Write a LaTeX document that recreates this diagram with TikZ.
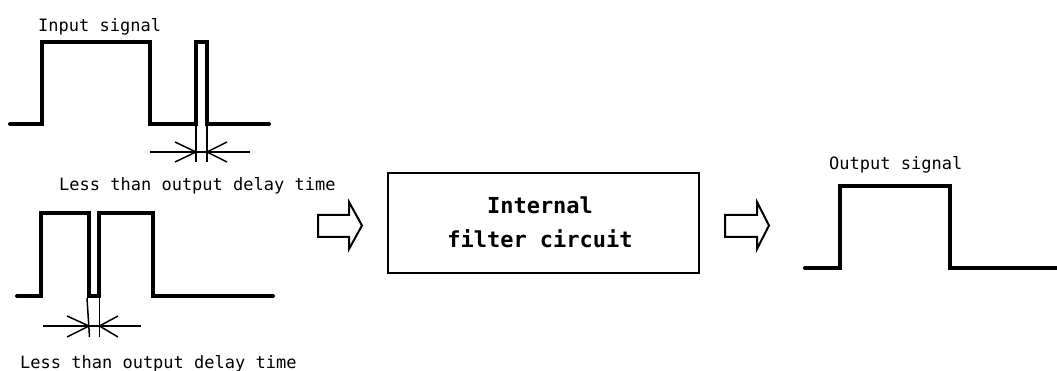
\documentclass[tikz,border=0pt]{standalone}
\usepackage{fontspec}
\setmonofont{DejaVu Sans Mono}
\begin{document}
\begin{tikzpicture}[x=1pt,y=-1pt,
  wave/.style={line width=4pt,line join=miter,line cap=round},
  thin/.style={line width=1.5pt},
  lbl/.style={inner sep=0pt,anchor=base west,font=\ttfamily\fontsize{17}{17}\selectfont},
  boxtxt/.style={inner sep=0pt,anchor=base,font=\ttfamily\bfseries\fontsize{22}{22}\selectfont},
  fatarrow/.style={line width=2pt,line join=miter}]
\useasboundingbox (0,0) rectangle (1057,371);

% input signal with a short pulse after the main one
\draw[wave] (10,124) -- (42,124) -- (42,42) -- (150,42) -- (150,124) -- (196,124)
  -- (196,42) -- (207,42) -- (207,124) -- (269,124);
\node[lbl] (insig) at (38,32) {Input signal};
% width of the short pulse
\coordinate (ta) at (196,126);
\coordinate (tb) at (207,126);
\coordinate (tac) at (196,162);
\coordinate (tbc) at (207,162);
\coordinate (tl) at (150,152);
\coordinate (tr) at (250,152);
\draw[thin] (ta) -- (tac);
\draw[thin] (tb) -- (tbc);
\draw[thin] (tl) -- (tr);
\draw[thin] (175,142) -- (196,152) -- (175,162);
\draw[thin] (227,142) -- (207,152) -- (227,162);
\node[lbl] (lessA) at (59,190.5) {Less than output delay time};

% input signal with a short gap inside the pulse
\draw[wave] (17,296) -- (41,296) -- (41,213) -- (89,213) -- (89,296) -- (99,296)
  -- (99,213) -- (153,213) -- (153,296) -- (273,296);
\coordinate (ga) at (87,298);
\coordinate (gac) at (89.5,337);
\coordinate (gb) at (99.5,298);
\coordinate (gbc) at (99.5,337);
\coordinate (gl) at (43,326);
\coordinate (gr) at (141,326);
\draw[thin] (ga) -- (gac);
\draw[thin] (gb) -- (gbc);
\draw[thin] (gl) -- (gr);
\draw[thin] (67,316) -- (89,326) -- (67,337);
\draw[thin] (118,316) -- (99.5,326) -- (118,337);
\node[lbl] (lessB) at (20,368) {Less than output delay time};

% block arrow into the filter
\draw[fatarrow] (318,215) -- (349,215) -- (349,202) -- (362,225.5) -- (349,249)
  -- (349,237) -- (318,237) -- cycle;

% filter block
\node[draw,line width=2pt,minimum width=311pt,minimum height=100pt,inner sep=0pt]
  (filt) at (543,223) {};
\node[boxtxt] (t1) at (540,214) {Internal};
\node[boxtxt] (t2) at (540,248) {filter circuit};

% block arrow out of the filter
\draw[fatarrow] (725,215) -- (757,215) -- (757,202) -- (769,225.5) -- (757,249)
  -- (757,237) -- (725,237) -- cycle;

% output signal
\draw[wave] (805,268) -- (840,268) -- (840,186) -- (950,186) -- (950,268) -- (1060,268);
\node[lbl] (outsig) at (829,170) {Output signal};
\end{tikzpicture}
\end{document}
